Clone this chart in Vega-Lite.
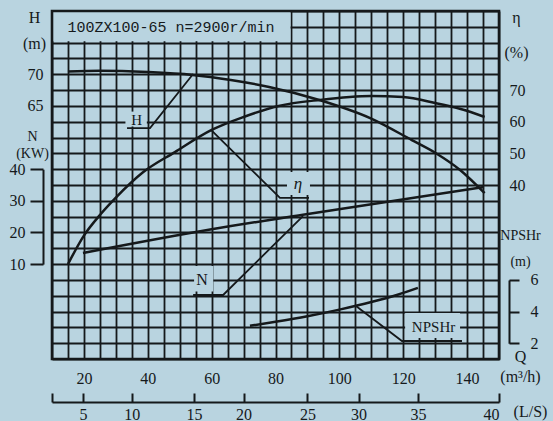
{
 "$schema": "https://vega.github.io/schema/vega-lite/v6.json",
 "width": 447,
 "height": 348,
 "autosize": {"type": "none"},
 "padding": {"left": 52, "top": 11, "right": 54, "bottom": 62},
 "background": "#b9d4e0",
 "config": {
  "view": {"stroke": null},
  "axis": {
   "labelFont": "Liberation Serif", "titleFont": "Liberation Serif",
   "labelColor": "#15191b", "titleColor": "#15191b",
   "labelFontSize": 16, "titleFontSize": 16, "titleFontWeight": "normal",
   "domainColor": "#15191b", "tickColor": "#15191b",
   "gridColor": "#15191b", "gridOpacity": 1, "gridWidth": 1.8,
   "domainWidth": 2, "tickWidth": 2, "labelOverlap": false
  }
 },
 "datasets": {
  "H": [
   {"q": 15, "h": 70.45}, {"q": 25, "h": 70.55}, {"q": 40, "h": 70.35}, {"q": 54, "h": 69.9},
   {"q": 66, "h": 69.1}, {"q": 78, "h": 68.0}, {"q": 94, "h": 65.9}, {"q": 110, "h": 63.0},
   {"q": 122.7, "h": 59.6}, {"q": 130, "h": 57.6}, {"q": 138, "h": 54.8}, {"q": 145.5, "h": 51.2}
  ],
  "hBox": [
   {"q": 10.05, "q2": 84.7, "h": 75.2, "h2": 79.95},
   {"q": 33, "q2": 39.7, "h": 61.75, "h2": 64.1}
  ],
  "hTitle": [{"q": 47.3, "h": 77.4, "label": "100ZX100-65 n=2900r/min"}],
  "hLabel": [{"q": 36.5, "h": 62.8, "label": "H"}],
  "hLeader": [{"q": 54.2, "h": 70.04}, {"q": 40.7, "h": 61.5}, {"q": 33.5, "h": 61.5}],
  "frame": [{"q": 10, "q2": 150, "h": 25, "h2": 80}],
  "eta": [
   {"q": 15, "e": 15}, {"q": 20, "e": 24}, {"q": 25, "e": 30.5}, {"q": 30, "e": 36},
   {"q": 38.5, "e": 44}, {"q": 48.5, "e": 50.4}, {"q": 60, "e": 57.4}, {"q": 70, "e": 61.5},
   {"q": 81, "e": 65}, {"q": 94, "e": 66.9}, {"q": 110, "e": 68.1}, {"q": 120, "e": 67.8},
   {"q": 130, "e": 65.9}, {"q": 138, "e": 64}, {"q": 145.5, "e": 61.5}
  ],
  "etaBox": [{"q": 83.6, "q2": 90.8, "e": 36.8, "e2": 44.1}],
  "etaLabel": [{"q": 87.0, "e": 40.3, "label": "η"}],
  "etaLeader": [{"q": 59.8, "e": 57.4}, {"q": 81.4, "e": 35.9}, {"q": 90.5, "e": 35.9}],
  "N": [{"q": 19.7, "n": 13.5}, {"q": 60, "n": 21.0}, {"q": 88.6, "n": 25.6}, {"q": 145.3, "n": 34.4}],
  "nBox": [{"q": 54.5, "q2": 60.5, "n": 1.3, "n2": 9.4}],
  "nLabel": [{"q": 57, "n": 5.0, "label": "N"}],
  "nLeader": [{"q": 54.2, "n": 0.23}, {"q": 63.6, "n": 0.23}, {"q": 88.6, "n": 25.2}],
  "NPSHr": [
   {"q": 72, "p": 3.1}, {"q": 80, "p": 3.35}, {"q": 90, "p": 3.7}, {"q": 100, "p": 4.12},
   {"q": 110, "p": 4.6}, {"q": 118, "p": 5.05}, {"q": 124.6, "p": 5.5}
  ],
  "pBox": [{"q": 120.6, "q2": 137.8, "p": 2.33, "p2": 3.91}],
  "pLabel": [{"q": 129.5, "p": 3.02, "label": "NPSHr"}],
  "pLeader": [{"q": 105.2, "p": 4.35}, {"q": 119.6, "p": 2.14}, {"q": 138.4, "p": 2.14}],
  "ls": [
   {"q": 10}, {"q": 19.7}, {"q": 35}, {"q": 54.5}, {"q": 70}, {"q": 90}, {"q": 106}, {"q": 124.6}, {"q": 150}
  ]
 },
 "layer": [
  {
   "encoding": {
    "x": {"field": "q", "type": "quantitative", "scale": {"domain": [10, 150], "nice": false, "zero": false},
     "axis": {"orient": "bottom", "values": [10,15,20,25,30,35,40,45,50,55,60,65,70,75,80,85,90,95,100,105,110,115,120,125,130,135,140,145,150],
      "grid": true, "ticks": false, "domain": false, "labelPadding": 11,
      "labelExpr": "datum.value % 20 == 0 && datum.value >= 20 && datum.value <= 140 ? datum.label : ''",
      "title": ["Q", "(m³/h)"], "titleAngle": 0, "titleX": 468, "titleY": 2, "titleAlign": "center", "titleBaseline": "alphabetic", "titleLineHeight": 20}},
    "y": {"field": "h", "type": "quantitative", "scale": {"domain": [25, 80], "nice": false, "zero": false},
     "axis": {"orient": "left", "values": [25,27.5,30,32.5,35,37.5,40,42.5,45,47.5,50,52.5,55,57.5,60,62.5,65,67.5,70,72.5,75,77.5,80],
      "grid": true, "ticks": false, "domain": false, "labelPadding": 9,
      "labelExpr": "datum.value == 65 || datum.value == 70 ? datum.label : ''",
      "title": ["H", "(m)"], "titleAngle": 0, "titleX": -18, "titleY": 11, "titleAlign": "center", "titleBaseline": "alphabetic", "titleLineHeight": 26}}
   },
   "layer": [
    {"data": {"name": "hBox"}, "mark": {"type": "rect", "fill": "#b9d4e0"}, "encoding": {"x2": {"field": "q2"}, "y2": {"field": "h2"}}},
    {"data": {"name": "hTitle"}, "mark": {"type": "text", "font": "Liberation Mono", "fontSize": 15, "color": "#15191b", "align": "center", "baseline": "middle"}, "encoding": {"text": {"field": "label"}}},
    {"data": {"name": "hLabel"}, "mark": {"type": "text", "font": "Liberation Serif", "fontSize": 15, "color": "#15191b", "align": "center", "baseline": "middle"}, "encoding": {"text": {"field": "label"}}},
    {"data": {"name": "hLeader"}, "mark": {"type": "line", "color": "#15191b", "strokeWidth": 1.8}, "encoding": {}},
    {"data": {"name": "H"}, "mark": {"type": "line", "color": "#15191b", "strokeWidth": 2.5, "interpolate": "monotone"}, "encoding": {}},
    {"data": {"name": "frame"}, "mark": {"type": "rect", "fillOpacity": 0, "stroke": "#15191b", "strokeWidth": 2.6}, "encoding": {"x2": {"field": "q2"}, "y2": {"field": "h2"}}}
   ]
  },
  {
   "encoding": {
    "x": {"field": "q", "type": "quantitative", "scale": {"domain": [10, 150], "nice": false, "zero": false}, "axis": null},
    "y": {"field": "e", "type": "quantitative", "scale": {"domain": [-15, 95], "nice": false, "zero": false},
     "axis": {"orient": "right", "values": [40, 50, 60, 70], "grid": false, "ticks": false, "domain": false, "labelPadding": 10,
      "title": ["η", "(%)"], "titleAngle": 0, "titleX": 17, "titleY": 11, "titleAlign": "center", "titleBaseline": "alphabetic", "titleLineHeight": 35}}
   },
   "layer": [
    {"data": {"name": "etaBox"}, "mark": {"type": "rect", "fill": "#b9d4e0"}, "encoding": {"x2": {"field": "q2"}, "y2": {"field": "e2"}}},
    {"data": {"name": "etaLabel"}, "mark": {"type": "text", "font": "Liberation Serif", "fontSize": 17, "fontStyle": "italic", "color": "#15191b", "align": "center", "baseline": "middle"}, "encoding": {"text": {"field": "label"}}},
    {"data": {"name": "etaLeader"}, "mark": {"type": "line", "color": "#15191b", "strokeWidth": 1.8}, "encoding": {}},
    {"data": {"name": "eta"}, "mark": {"type": "line", "color": "#15191b", "strokeWidth": 2.5, "interpolate": "monotone"}, "encoding": {}}
   ]
  },
  {
   "encoding": {
    "x": {"field": "q", "type": "quantitative", "scale": {"domain": [10, 150], "nice": false, "zero": false}, "axis": null},
    "y": {"field": "n", "type": "quantitative", "scale": {"domain": [10, 40], "range": [253.1, 158.2], "nice": false, "zero": false},
     "axis": {"orient": "left", "offset": 9, "values": [10, 20, 30, 40], "grid": false, "ticks": true, "tickSize": 13, "domain": true, "labelPadding": 5,
      "title": ["N", "(KW)"], "titleFontSize": 14, "titleAngle": 0, "titleX": -11, "titleY": 129, "titleAlign": "center", "titleBaseline": "alphabetic", "titleLineHeight": 17}}
   },
   "layer": [
    {"data": {"name": "nBox"}, "mark": {"type": "rect", "fill": "#b9d4e0"}, "encoding": {"x2": {"field": "q2"}, "y2": {"field": "n2"}}},
    {"data": {"name": "nLabel"}, "mark": {"type": "text", "font": "Liberation Serif", "fontSize": 16, "color": "#15191b", "align": "center", "baseline": "middle"}, "encoding": {"text": {"field": "label"}}},
    {"data": {"name": "nLeader"}, "mark": {"type": "line", "color": "#15191b", "strokeWidth": 1.8}, "encoding": {}},
    {"data": {"name": "N"}, "mark": {"type": "line", "color": "#15191b", "strokeWidth": 2.5, "interpolate": "monotone"}, "encoding": {}}
   ]
  },
  {
   "encoding": {
    "x": {"field": "q", "type": "quantitative", "scale": {"domain": [10, 150], "nice": false, "zero": false}, "axis": null},
    "y": {"field": "p", "type": "quantitative", "scale": {"domain": [2, 6], "range": [332.2, 268.9], "nice": false, "zero": false},
     "axis": {"orient": "right", "offset": 10, "values": [2, 4, 6], "grid": false, "ticks": true, "tickSize": 10, "domain": true, "labelPadding": 11,
      "title": ["NPSHr", "(m)"], "titleFontSize": 14, "titleAngle": 0, "titleX": 11, "titleY": 228, "titleAlign": "center", "titleBaseline": "alphabetic", "titleLineHeight": 26}}
   },
   "layer": [
    {"data": {"name": "pBox"}, "mark": {"type": "rect", "fill": "#b9d4e0"}, "encoding": {"x2": {"field": "q2"}, "y2": {"field": "p2"}}},
    {"data": {"name": "pLabel"}, "mark": {"type": "text", "font": "Liberation Serif", "fontSize": 15, "color": "#15191b", "align": "center", "baseline": "middle"}, "encoding": {"text": {"field": "label"}}},
    {"data": {"name": "pLeader"}, "mark": {"type": "line", "color": "#15191b", "strokeWidth": 1.8}, "encoding": {}},
    {"data": {"name": "NPSHr"}, "mark": {"type": "line", "color": "#15191b", "strokeWidth": 2.5, "interpolate": "monotone"}, "encoding": {}}
   ]
  },
  {
   "data": {"name": "ls"},
   "mark": {"type": "point", "opacity": 0},
   "encoding": {
    "x": {"field": "q", "type": "quantitative", "scale": {"domain": [10, 150], "nice": false, "zero": false},
     "axis": {"orient": "bottom", "offset": 43, "values": [10, 19.7, 35, 54.5, 70, 90, 106, 124.6, 150],
      "grid": false, "ticks": true, "tickSize": -9, "domain": true, "labelPadding": 13, "labelFlush": true,
      "labelExpr": "datum.value == 19.7 ? '5' : datum.value == 35 ? '10' : datum.value == 54.5 ? '15' : datum.value == 70 ? '20' : datum.value == 90 ? '25' : datum.value == 106 ? '30' : datum.value == 124.6 ? '35' : datum.value == 150 ? '40' : ''",
      "title": "(L/S)", "titleAngle": 0, "titleX": 478, "titleY": 14, "titleAlign": "center", "titleBaseline": "alphabetic"}}
   }
  }
 ],
 "resolve": {"scale": {"x": "independent", "y": "independent"}}
}
